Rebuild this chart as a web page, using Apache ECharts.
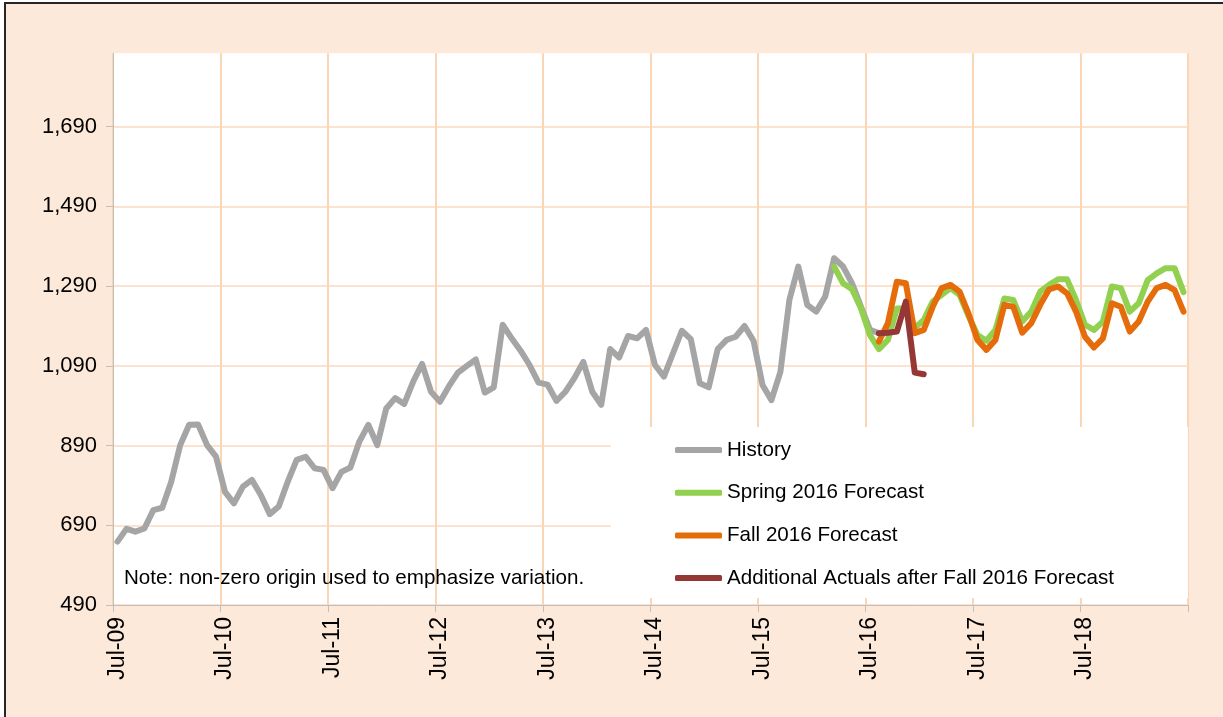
<!DOCTYPE html>
<html><head><meta charset="utf-8">
<script src="https://cdn.jsdelivr.net/npm/echarts@6/dist/echarts.min.js"></script>
<style>
html,body{margin:0;padding:0;background:#fff;overflow:hidden;}
#box{position:absolute;left:4px;top:2px;width:1219px;height:715px;border-left:2px solid #262626;border-top:2px solid #262626;background:#FDE9D9;}
#chart{width:1219px;height:715px;}
</style></head><body><div id="box"><div id="chart"></div></div>
<script>
const monthNames = ['Jan','Feb','Mar','Apr','May','Jun','Jul','Aug','Sep','Oct','Nov','Dec'];
const categories = [];
for (let k = 0; k < 120; k++) {
  const m = (6 + k) % 12;
  const y = 9 + Math.floor((6 + k) / 12);
  categories.push(monthNames[m] + '-' + String(y).padStart(2, '0'));
}
const yTickLabels = [490, 690, 890, 1090, 1290, 1490, 1690];

// History: Jul-09 .. Aug-16
const historyValues = [
  649, 681, 674, 682, 728, 734, 799, 891, 942, 943, 891, 862,
  774, 745, 787, 804, 766, 718, 737, 799, 854, 862, 833, 829,
  783, 824, 835, 900, 942, 891, 983, 1009, 994, 1050, 1095, 1025,
  1000, 1039, 1073, 1090, 1106, 1023, 1036, 1193, 1159, 1128, 1092, 1048,
  1043, 1002, 1025, 1059, 1100, 1025, 992, 1132, 1111, 1165, 1159, 1180,
  1092, 1063, 1121, 1178, 1157, 1046, 1036, 1132, 1155, 1163, 1190, 1153,
  1042, 1004, 1075, 1255, 1339, 1243, 1226, 1264, 1360, 1339, 1297, 1238,
  1180, 1172
];
const historyStart = 0;

// Spring 2016 Forecast: Mar-16 .. Jun-19
const springValues = [
  1339, 1297, 1282, 1234, 1167, 1132, 1155, 1234, 1234, 1185, 1205, 1251,
  1268, 1285, 1268, 1215, 1167, 1153, 1180, 1259, 1255, 1201, 1226, 1276,
  1293, 1307, 1307, 1255, 1193, 1180, 1201, 1289, 1285, 1226, 1247, 1305,
  1322, 1335, 1335, 1275
];
const springStart = 80;

// Fall 2016 Forecast: Aug-16 .. Jun-19
const fallValues = [
  1151, 1197, 1301, 1297, 1172, 1180, 1238, 1285, 1293, 1276, 1221, 1155,
  1130, 1155, 1243, 1238, 1173, 1197, 1243, 1282, 1289, 1272, 1226, 1163,
  1136, 1159, 1247, 1238, 1176, 1201, 1251, 1285, 1293, 1280, 1226
];
const fallStart = 85;

// Additional Actuals after Fall 2016 Forecast: Aug-16 .. Jan-17
const additionalValues = [1172, 1173, 1176, 1251, 1073, 1069];
const additionalStart = 85;

function place(start, arr) {
  const out = new Array(categories.length).fill(null);
  arr.forEach((v, i) => { out[start + i] = v; });
  return out;
}

const FONT = '"Liberation Sans", Arial, sans-serif';
const chart = echarts.init(document.getElementById('chart'), null, {renderer: 'canvas'});

function lineSeries(name, data, color) {
  return {
    name, type: 'line', data, symbol: 'none', showSymbol: false,
    connectNulls: false, animation: false,
    lineStyle: {width: 6, color, cap: 'round', join: 'round'},
    itemStyle: {color},
    emphasis: {disabled: true}
  };
}

chart.setOption({
  animation: false,
  backgroundColor: 'transparent',
  grid: {left: 107, top: 49.3, width: 1075, height: 551.7, show: true, backgroundColor: '#fff', borderWidth: 0, containLabel: false},
  xAxis: {
    type: 'category', data: categories, boundaryGap: true,
    axisLine: {show: true, lineStyle: {color: '#BFBFBF', width: 1}},
    axisTick: {show: true, interval: 11, length: 7, alignWithLabel: false, lineStyle: {color: '#BFBFBF'}},
    axisLabel: {interval: 11, rotate: 90, margin: 12, fontSize: 23, color: '#000', fontFamily: FONT},
    splitLine: {show: true, interval: 11, lineStyle: {color: '#FAD6B4', width: 2}}
  },
  yAxis: {
    type: 'value', min: 490, max: 1874, interval: 200,
    axisLine: {show: true, lineStyle: {color: '#BFBFBF', width: 1}},
    axisTick: {show: true, length: 7, lineStyle: {color: '#BFBFBF'}},
    axisLabel: {
      margin: 16, fontSize: 22, color: '#000', fontFamily: FONT,
      showMaxLabel: false,
      formatter: v => yTickLabels.indexOf(v) >= 0 ? v.toLocaleString('en-US') : ''
    },
    splitLine: {show: true, lineStyle: {color: ['#FCE3CE','#FCE3CE','#FCE3CE','#FCE3CE','#FCE3CE','#FCE3CE','#FCE3CE','rgba(0,0,0,0)'], width: 2}}
  },
  legend: {
    orient: 'vertical', left: 669, top: 435, padding: 0,
    itemWidth: 47, itemHeight: 6, itemGap: 20.7, icon: 'roundRect',
    textStyle: {fontSize: 20.6, color: '#000', fontFamily: FONT, lineHeight: 22},
    data: ['History', 'Spring 2016 Forecast', 'Fall 2016 Forecast', 'Additional Actuals after Fall 2016 Forecast'],
    selectedMode: false
  },
  graphic: [
    {type: 'rect', z: 1, silent: true, shape: {x: 605, y: 423, width: 577, height: 171}, style: {fill: '#fff'}},
    {type: 'text', z: 3, silent: true, style: {x: 118, y: 574, text: 'Note: non-zero origin used to emphasize variation.', font: '20.6px ' + FONT, fill: '#000', verticalAlign: 'middle'}}
  ],
  series: [
    lineSeries('History', place(historyStart, historyValues), '#A5A5A5'),
    lineSeries('Spring 2016 Forecast', place(springStart, springValues), '#92D050'),
    lineSeries('Fall 2016 Forecast', place(fallStart, fallValues), '#E46C0A'),
    lineSeries('Additional Actuals after Fall 2016 Forecast', place(additionalStart, additionalValues), '#953735')
  ]
});
</script></body></html>
